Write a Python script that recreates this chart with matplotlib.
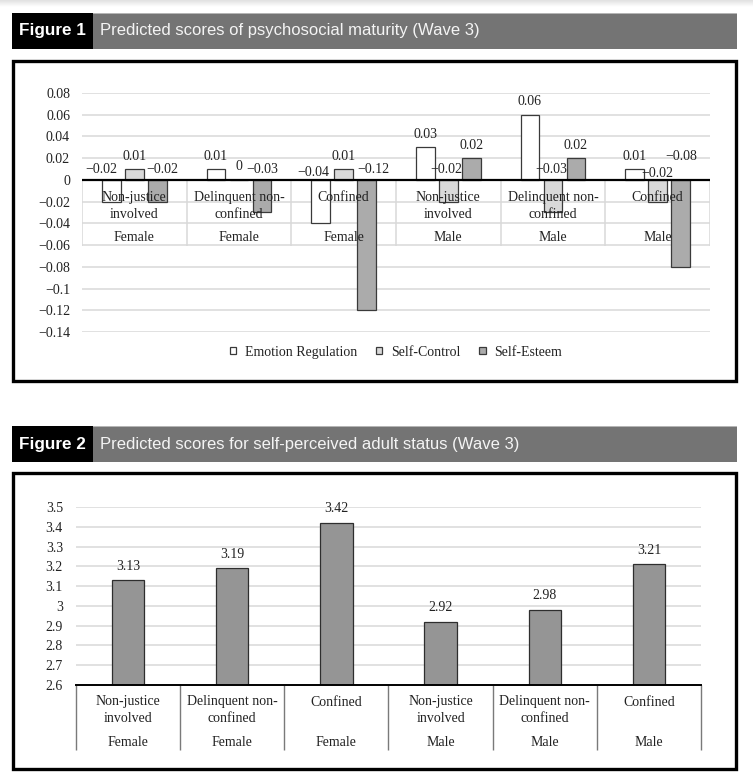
import numpy as np
import matplotlib
matplotlib.use("Agg")
import matplotlib.pyplot as plt
from matplotlib.patches import Rectangle

# data
groups = ["Non-justice\ninvolved", "Delinquent non-\nconfined", "Confined",
          "Non-justice\ninvolved", "Delinquent non-\nconfined", "Confined"]
sexes = ["Female", "Female", "Female", "Male", "Male", "Male"]

series1 = ["Emotion Regulation", "Self-Control", "Self-Esteem"]
emotion_reg = [-0.02, 0.01, -0.04, 0.03, 0.06, 0.01]
self_control = [0.01, 0, 0.01, -0.02, -0.03, -0.02]
self_esteem = [-0.02, -0.03, -0.12, 0.02, 0.02, -0.08]
yticks1 = [0.08, 0.06, 0.04, 0.02, 0, -0.02, -0.04, -0.06, -0.08, -0.1, -0.12, -0.14]

adult_status = [3.13, 3.19, 3.42, 2.92, 2.98, 3.21]
yticks2 = [3.5, 3.4, 3.3, 3.2, 3.1, 3.0, 2.9, 2.8, 2.7, 2.6]

W, H = 753, 772
SERIF = "Liberation Serif"
SANS = "Liberation Sans"
TXT = "#222222"

plt.rcParams['font.family'] = SERIF
plt.rcParams['font.size'] = 10

fig = plt.figure(figsize=(W / 100, H / 100), dpi=100)


def rect(x0, y0, x1, y1, **kw):
    fig.patches.append(Rectangle((x0 / W, 1 - y1 / H), (x1 - x0) / W, (y1 - y0) / H,
                                 transform=fig.transFigure, **kw))


def axes_px(x0, y0, x1, y1):
    return fig.add_axes([x0 / W, 1 - y1 / H, (x1 - x0) / W, (y1 - y0) / H])


def fmt(v):
    return ("%g" % v).replace("-", "\u2212")


# faint shadow on top edge
sh = fig.add_axes([0, 1 - 7 / H, 1, 7 / H])
sh.imshow(np.linspace(0.88, 1.0, 20).reshape(-1, 1), cmap="gray", vmin=0, vmax=1,
          aspect="auto", extent=[0, 1, 0, 1])
sh.axis("off")


def header(y0, y1, num, title):
    rect(93, y0, 737, y1, facecolor="#747474", edgecolor="none")
    rect(93, y0, 737, y0 + 1, facecolor="#b5b5b5", edgecolor="none")
    rect(12, y0, 93, y1, facecolor="black", edgecolor="none")
    yc = 1 - (y0 + y1) / 2 / H
    fig.text(52.5 / W, yc, num, family=SANS, weight="bold", size=12.3,
             color="white", ha="center", va="center")
    fig.text(100 / W, yc, title, family=SANS, size=12, color="#f4f4f4",
             ha="left", va="center")


header(13, 49, "Figure 1", "Predicted scores of psychosocial maturity (Wave 3)")
header(426, 462, "Figure 2", "Predicted scores for self-perceived adult status (Wave 3)")

rect(12.5, 61, 735.5, 381, facecolor="none", edgecolor="black", lw=2.4)
rect(12.5, 473, 735.5, 769, facecolor="none", edgecolor="black", lw=2.4)

# ---------------- Figure 1 ----------------
ax1 = axes_px(82, 93, 710, 332)
x = np.arange(len(groups))
cols1 = ["white", "#d9d9d9", "#ababab"]
vals1 = [emotion_reg, self_control, self_esteem]
offs = [-0.22, 0, 0.22]
bw = 0.18

for s in range(3):
    ax1.bar(x + offs[s], vals1[s], bw, color=cols1[s], edgecolor="#3a3a3a",
            lw=0.9, label=series1[s], zorder=3)

# label nudges in pixels (group, series): (dx, dy)
nudge = {(0, 0): (-10, 0), (0, 2): (5, 0), (2, 0): (-7, -3), (2, 2): (7, 0),
         (3, 1): (-2, 0), (4, 1): (-2, 0), (5, 1): (0, -4), (5, 2): (1, 13)}
for s in range(3):
    for i, v in enumerate(vals1[s]):
        dx, dy = nudge.get((i, s), (0, 0))
        yy = v if v >= 0 else 0
        base = 13 if v >= 0 else 10.5
        ax1.annotate(fmt(v), (x[i] + offs[s], yy), xytext=(dx, base + dy),
                     textcoords="offset pixels", ha="center", va="center",
                     color=TXT, zorder=6)

ax1.set_xlim(-0.5, len(groups) - 0.5)
ax1.set_ylim(-0.14, 0.08)
ax1.set_yticks(yticks1)
ax1.set_yticklabels([fmt(t) for t in yticks1])
ax1.tick_params(axis="y", length=0, pad=8.6, labelcolor=TXT)
ax1.set_xticks([])
for sp in ax1.spines.values():
    sp.set_visible(False)
ax1.grid(axis="y", color="#d9d9d9", lw=1.1, zorder=0)
ax1.axhline(0, color="black", lw=1.6, zorder=4)
ax1.vlines(np.arange(len(groups) + 1) - 0.5, -0.0605, 0, color="#d9d9d9", lw=1.1, zorder=1)
for i in range(len(groups)):
    ax1.annotate(groups[i], (x[i], 0), xytext=(0, -11.5), textcoords="offset pixels",
                 ha="center", va="top", linespacing=1.32, color=TXT, zorder=6)
    ax1.annotate(sexes[i], (x[i], 0), xytext=(0, -58), textcoords="offset pixels",
                 ha="center", va="center", color=TXT, zorder=6)

fig.legend(loc="center", bbox_to_anchor=(396 / W, 1 - 352 / H), ncol=3, frameon=False,
           handlelength=0.45, handleheight=0.45, handletextpad=0.65,
           columnspacing=1.35, labelcolor=TXT, borderpad=0)

# ---------------- Figure 2 ----------------
ax2 = axes_px(76, 507, 701, 685)
ax2.bar(x, adult_status, 0.31, color="#959595", edgecolor="#2e2e2e", lw=0.9, zorder=3)
for i, v in enumerate(adult_status):
    ax2.annotate("%.2f" % v, (x[i], v), xytext=(0, 14), textcoords="offset pixels",
                 ha="center", va="center", color=TXT)
ax2.set_xlim(-0.5, len(groups) - 0.5)
ax2.set_ylim(2.6, 3.5)
ax2.set_yticks(yticks2)
ax2.set_yticklabels([fmt(t) for t in yticks2])
ax2.tick_params(axis="y", length=0, pad=9.4, labelcolor=TXT)
ax2.set_xticks([])
for sp in ["top", "right", "left"]:
    ax2.spines[sp].set_visible(False)
ax2.spines["bottom"].set_color("black")
ax2.spines["bottom"].set_linewidth(1.4)
ax2.spines["bottom"].set_zorder(4)
ax2.grid(axis="y", color="#d9d9d9", lw=1.1, zorder=0)
ax2.vlines(np.arange(len(groups) + 1) - 0.5, -65 / 178, 0, color="#7a7a7a", lw=1.0,
           transform=ax2.get_xaxis_transform(), clip_on=False)
for i in range(len(groups)):
    ax2.annotate(groups[i], (x[i], 0), xycoords=ax2.get_xaxis_transform(),
                 xytext=(0, -10.5), textcoords="offset pixels", ha="center", va="top",
                 linespacing=1.3, color=TXT)
    ax2.annotate(sexes[i], (x[i], 0), xycoords=ax2.get_xaxis_transform(),
                 xytext=(0, -57), textcoords="offset pixels", ha="center", va="center",
                 color=TXT)

fig.savefig("out.png", dpi=100)
